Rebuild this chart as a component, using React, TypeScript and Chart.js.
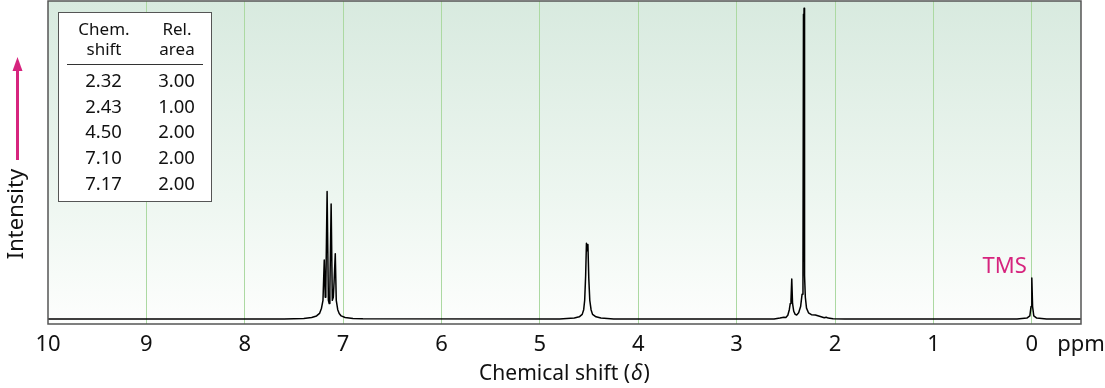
import React, { useEffect, useRef } from 'react';
import { Chart, registerables } from 'chart.js';

Chart.register(...registerables);

// Spectrum trace: chemical shift (ppm) and intensity (% of tallest peak)
const shiftPpm = [
  10.0, 7.6, 7.4, 7.32, 7.27, 7.24, 7.22, 7.205, 7.192, 7.182, 7.176, 7.163, 7.15, 7.142, 7.135, 7.122,
  7.11, 7.1, 7.092, 7.08, 7.07, 7.055, 7.04, 7.02, 6.98, 6.9, 6.8,
  4.8, 4.65, 4.6, 4.57, 4.555, 4.545, 4.535, 4.527, 4.518, 4.512, 4.503, 4.493, 4.48, 4.465, 4.43, 4.38, 4.25,
  2.62, 2.56, 2.52, 2.5, 2.48, 2.465, 2.455, 2.448, 2.44, 2.432, 2.42, 2.405, 2.39, 2.37, 2.35, 2.335, 2.326,
  2.321, 2.318, 2.315, 2.31, 2.302, 2.29, 2.27, 2.24, 2.2, 2.15, 2.11, 2.09, 2.07, 2.02, 1.9,
  0.15, 0.05, 0.02, 0.008, 0.0, -0.008, -0.02, -0.05, -0.15, -0.5,
];
const intensity = [
  0, 0, 0.2, 0.5, 1.0, 1.8, 3.5, 6, 19, 7, 10, 41, 6, 5, 9, 37,
  6, 7, 12, 21, 6, 3, 1.8, 1.0, 0.5, 0.2, 0.05,
  0, 0.3, 0.7, 1.5, 3, 6, 14, 24.4, 22, 24, 13, 6, 3, 1.5, 0.7, 0.3, 0,
  0, 0.3, 0.6, 0.5, 1.2, 3, 5, 6, 12.9, 5, 2.5, 1.5, 1.3, 2, 4, 8, 15,
  98, 88, 100, 14, 7, 3.5, 2, 1.4, 1.3, 0.8, 0.4, 0.6, 0.3, 0.1, 0,
  0, 0.3, 1, 4, 13.2, 4, 1, 0.3, 0, 0,
];

const tickValues = [10, 9, 8, 7, 6, 5, 4, 3, 2, 1, 0, -0.5];
const tickLabels = ['10', '9', '8', '7', '6', '5', '4', '3', '2', '1', '0', 'ppm'];

const tableShift = ['2.32', '2.43', '4.50', '7.10', '7.17'];
const tableArea = ['3.00', '1.00', '2.00', '2.00', '2.00'];

const FONT = "'Noto Sans', sans-serif";
const MAGENTA = '#d6247e';

const decorPlugin = {
  id: 'decor',
  beforeDraw(chart: any) {
    const { ctx, chartArea: a, width, height } = chart;
    ctx.save();
    ctx.fillStyle = '#ffffff';
    ctx.fillRect(0, 0, width, height);
    const g = ctx.createLinearGradient(0, a.top, 0, a.bottom);
    g.addColorStop(0, '#d8eadf');
    g.addColorStop(0.6, '#edf6f0');
    g.addColorStop(1, '#fdfefd');
    ctx.fillStyle = g;
    ctx.fillRect(a.left, a.top, a.right - a.left, a.bottom - a.top);
    ctx.restore();
  },
  afterDraw(chart: any) {
    const { ctx, chartArea: a } = chart;
    const xs = chart.scales.x;
    ctx.save();
    // frame
    ctx.strokeStyle = '#555';
    ctx.lineWidth = 1.5;
    ctx.strokeRect(a.left, a.top, a.right - a.left, a.bottom - a.top);

    // axis title with italic delta
    const cx = (a.left + a.right) / 2;
    const by = 380;
    ctx.fillStyle = '#111';
    ctx.textBaseline = 'alphabetic';
    ctx.textAlign = 'left';
    const p1 = 'Chemical shift (';
    const p2 = '\u03B4';
    const p3 = ')';
    const fs = 21;
    ctx.font = `${fs}px ${FONT}`;
    const w1 = ctx.measureText(p1).width;
    const w3 = ctx.measureText(p3).width;
    ctx.font = `italic ${fs}px ${FONT}`;
    const w2 = ctx.measureText(p2).width;
    const x0 = cx - (w1 + w2 + w3 + 2) / 2;
    ctx.font = `${fs}px ${FONT}`;
    ctx.fillText(p1, x0, by);
    ctx.font = `italic ${fs}px ${FONT}`;
    ctx.fillText(p2, x0 + w1 + 1, by);
    ctx.font = `${fs}px ${FONT}`;
    ctx.fillText(p3, x0 + w1 + w2 + 2, by);

    // Intensity label
    ctx.save();
    ctx.translate(17, 214);
    ctx.rotate(-Math.PI / 2);
    ctx.textAlign = 'center';
    ctx.textBaseline = 'middle';
    ctx.font = `22px ${FONT}`;
    ctx.fillStyle = '#111';
    ctx.fillText('Intensity', 0, 0);
    ctx.restore();

    // arrow
    ctx.strokeStyle = MAGENTA;
    ctx.fillStyle = MAGENTA;
    ctx.lineWidth = 3;
    ctx.beginPath();
    ctx.moveTo(17.5, 160);
    ctx.lineTo(17.5, 66);
    ctx.stroke();
    ctx.beginPath();
    ctx.moveTo(17.5, 57);
    ctx.lineTo(22.5, 71);
    ctx.lineTo(12.5, 71);
    ctx.closePath();
    ctx.fill();

    // TMS label
    ctx.font = `22px ${FONT}`;
    ctx.textAlign = 'right';
    ctx.textBaseline = 'alphabetic';
    ctx.fillStyle = MAGENTA;
    ctx.fillText('TMS', xs.getPixelForValue(0) - 5, 273);

    // table
    ctx.fillStyle = '#ffffff';
    ctx.fillRect(58.5, 12.5, 153, 189);
    ctx.strokeStyle = '#555';
    ctx.lineWidth = 1;
    ctx.strokeRect(58.5, 12.5, 153, 189);
    ctx.fillStyle = '#111';
    ctx.textAlign = 'center';
    ctx.textBaseline = 'middle';
    ctx.font = `17px ${FONT}`;
    ctx.fillText('Chem.', 104, 30);
    ctx.fillText('shift', 104, 50);
    ctx.fillText('Rel.', 177, 30);
    ctx.fillText('area', 177, 50);
    ctx.strokeStyle = '#333';
    ctx.beginPath();
    ctx.moveTo(67, 64.5);
    ctx.lineTo(203, 64.5);
    ctx.stroke();
    ctx.font = `18.5px ${FONT}`;
    tableShift.forEach((s, i) => {
      const y = 82 + i * 25.6;
      ctx.fillText(s, 103.5, y);
      ctx.fillText(tableArea[i], 176.5, y);
    });
    ctx.restore();
  },
};

export default function App() {
  const ref = useRef<HTMLCanvasElement>(null);
  useEffect(() => {
    if (!ref.current) return;
    const points = shiftPpm.map((x, i) => ({ x, y: intensity[i] }));
    const chart = new Chart(ref.current, {
      type: 'scatter',
      data: {
        datasets: [
          {
            data: points,
            showLine: true,
            borderColor: '#000',
            borderWidth: 1.5,
            pointRadius: 0,
            borderJoinStyle: 'round',
            tension: 0,
          } as any,
        ],
      },
      options: {
        animation: false,
        responsive: true,
        maintainAspectRatio: false,
        devicePixelRatio: 1,
        layout: { padding: { left: 48, right: 24, top: 1, bottom: 0 } },
        plugins: { legend: { display: false }, tooltip: { enabled: false } },
        events: [],
        scales: {
          x: {
            type: 'linear',
            reverse: true,
            min: -0.5,
            max: 10,
            afterBuildTicks: (s: any) => {
              s.ticks = tickValues.map((v) => ({ value: v }));
            },
            afterFit: (s: any) => {
              s.height = 64;
              s.paddingLeft = 0;
              s.paddingRight = 0;
            },
            ticks: {
              autoSkip: false,
              maxRotation: 0,
              padding: 8,
              color: '#111',
              font: { family: FONT, size: 22 },
              callback: (_v: any, i: number) => tickLabels[i],
            },
            grid: {
              drawTicks: false,
              lineWidth: 1,
              color: (c: any) =>
                c.tick && (c.tick.value === 10 || c.tick.value === -0.5) ? 'rgba(0,0,0,0)' : '#acd9a2',
            },
            border: { display: false },
          },
          y: { display: false, min: -1.6, max: 102.3 },
        },
      },
      plugins: [decorPlugin],
    });
    return () => chart.destroy();
  }, []);
  return (
    <div style={{ position: 'absolute', left: 0, top: 0, width: 1105, height: 388 }}>
      <canvas ref={ref} />
    </div>
  );
}
